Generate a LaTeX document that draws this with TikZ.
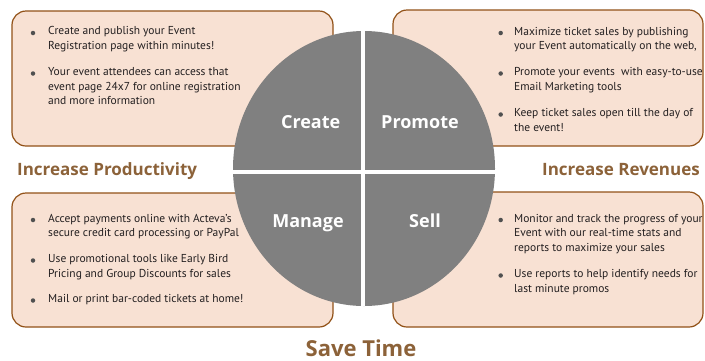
\documentclass[tikz,border=0pt]{standalone}
\usepackage{fontspec}
\setmainfont{PT Sans}
\newfontfamily\headfont{Open Sans}
\definecolor{boxfill}{RGB}{248,225,211}
\definecolor{boxline}{RGB}{146,82,24}
\definecolor{headc}{RGB}{140,98,57}
\definecolor{circc}{RGB}{128,128,128}
\definecolor{dotc}{RGB}{80,80,80}
\definecolor{bodyc}{RGB}{35,31,32}
\tikzset{
  infobox/.style={draw=boxline, fill=boxfill, line width=1.2pt, rounded corners=14pt},
  bodytext/.style={anchor=north west, inner sep=0pt, align=left, font=\fontsize{11.5}{14.7}\selectfont, text=bodyc},
  dotmark/.style={circle, fill=dotc, inner sep=0pt, minimum size=4.5pt},
  heading/.style={text=headc, font=\headfont\bfseries\fontsize{17}{20}\selectfont, inner sep=0pt},
  bigheading/.style={text=headc, font=\headfont\bfseries\fontsize{22}{24}\selectfont, inner sep=0pt},
  quad/.style={text=white, font=\headfont\bfseries\fontsize{18}{22}\selectfont, inner sep=0pt, anchor=base},
}
\begin{document}
\begin{tikzpicture}[x=1pt,y=-1pt]
\useasboundingbox[fill=white] (0,0) rectangle (705,360);
% boxes
\draw[infobox] (12,11) rectangle (333,146);
\draw[infobox] (393,10) rectangle (703,146);
\draw[infobox] (12,193) rectangle (333,327);
\draw[infobox] (393,192) rectangle (703,327);
% circle
\fill[circc] (364,168.5) ellipse [x radius=131, y radius=137.5];
\begin{scope}
\clip (364,168.5) ellipse [x radius=131, y radius=137.5];
\draw[white, line width=3.5pt] (363,20) -- (363,320);
\draw[white, line width=3.5pt] (220,172) -- (510,172);
\end{scope}
\node[quad] (create) at (310.7,128.3) {Create};
\node[quad] (promote) at (420,128.3) {Promote};
\node[quad] (manage) at (308,227.3) {Manage};
\node[quad] (sell) at (425,227.3) {Sell};
% headings
\node[heading, anchor=base west] (prod) at (17,175.7) {Increase Productivity};
\node[heading, anchor=base east] (rev) at (700,175.7) {Increase Revenues};
\node[bigheading, anchor=base] (save) at (361,356) {Save Time};
% top-left
\node[dotmark] (tld1) at (33,33) {};
\node[bodytext] (tl1) at (48,26.5) {Create and publish your Event\\Registration page within minutes!};
\node[dotmark] (tld2) at (33,73.5) {};
\node[bodytext] (tl2) at (48,67.2) {Your event attendees can access that\\event page 24x7 for online registration\\and more information};
% top-right
\node[dotmark] (trd1) at (500.7,33) {};
\node[bodytext] (tr1) at (514,26.8) {Maximize ticket sales by publishing\\your Event automatically on the web,};
\node[dotmark] (trd2) at (500.7,73.5) {};
\node[bodytext] (tr2) at (514,67.5) {Promote your events\ \ with easy-to-use\\Email Marketing tools};
\node[dotmark] (trd3) at (500.7,114.5) {};
\node[bodytext] (tr3) at (514,108.5) {Keep ticket sales open till the day of\\the event!};
% bottom-left
\node[dotmark] (bld1) at (33,220) {};
\node[bodytext] (bl1) at (48,213.8) {Accept payments online with Acteva’s\\secure credit card processing or PayPal};
\node[dotmark] (bld2) at (33,260.5) {};
\node[bodytext] (bl2) at (48,254.5) {Use promotional tools like Early Bird\\Pricing and Group Discounts for sales};
\node[dotmark] (bld3) at (33,300.5) {};
\node[bodytext] (bl3) at (48,294.5) {Mail or print bar-coded tickets at home!};
% bottom-right
\node[dotmark] (brd1) at (500.7,220) {};
\node[bodytext] (br1) at (514,213.8) {Monitor and track the progress of your\\Event with our real-time stats and\\reports to maximize your sales};
\node[dotmark] (brd2) at (500.7,275.5) {};
\node[bodytext] (br2) at (514,269.5) {Use reports to help identify needs for\\last minute promos};
\end{tikzpicture}
\end{document}
